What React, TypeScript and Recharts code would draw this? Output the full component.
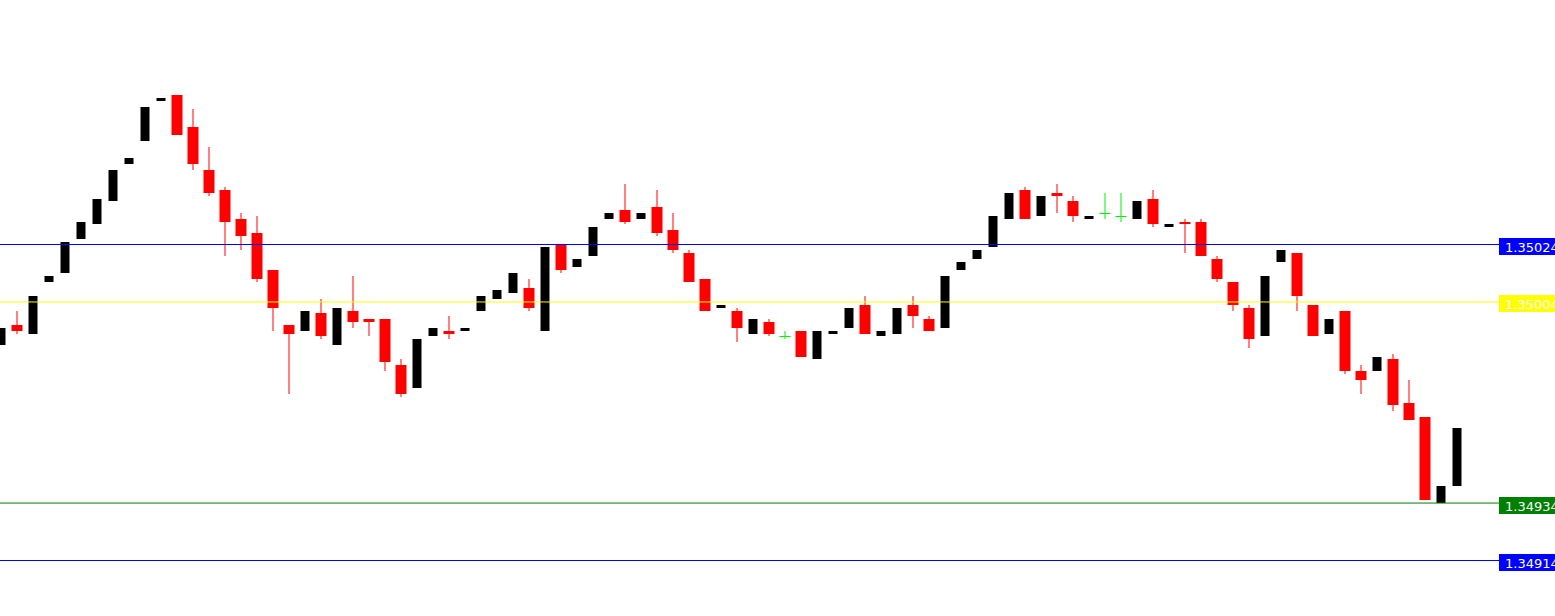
import { ComposedChart, Bar, XAxis, YAxis, ReferenceLine } from 'recharts';

// OHLC prices, one entry per candle, oldest first
const opens = [
  1.34989, 1.34996, 1.34993, 1.35011, 1.35014, 1.35026, 1.35031, 1.35039, 1.35052, 1.35060,
  1.35074, 1.35076, 1.35065, 1.35050, 1.35043, 1.35033, 1.35028, 1.35015, 1.34996, 1.34994,
  1.35000, 1.34989, 1.35001, 1.34998, 1.34998, 1.34982, 1.34974, 1.34992, 1.34994, 1.34994,
  1.35001, 1.35005, 1.35007, 1.35009, 1.34994, 1.35024, 1.35016, 1.35020, 1.35033, 1.35036,
  1.35033, 1.35037, 1.35029, 1.35021, 1.35012, 1.35002, 1.35001, 1.34993, 1.34997, 1.34992,
  1.34994, 1.34984, 1.34993, 1.34995, 1.35003, 1.34992, 1.34993, 1.35003, 1.34998, 1.34995,
  1.35015, 1.35019, 1.35023, 1.35033, 1.35043, 1.35034, 1.35042, 1.35039, 1.35033, 1.35035,
  1.35034, 1.35033, 1.35040, 1.35030, 1.35032, 1.35032, 1.35019, 1.35011, 1.35002, 1.34992,
  1.35018, 1.35021, 1.35003, 1.34993, 1.35001, 1.34980, 1.34980, 1.34984, 1.34969, 1.34964,
  1.34934, 1.34940,
];
const highs = [
  1.34995, 1.35001, 1.35006, 1.35013, 1.35025, 1.35032, 1.35040, 1.35050, 1.35054, 1.35072,
  1.35075, 1.35076, 1.35071, 1.35058, 1.35044, 1.35035, 1.35034, 1.35015, 1.34996, 1.35001,
  1.35005, 1.35002, 1.35013, 1.34998, 1.34998, 1.34984, 1.34991, 1.34995, 1.34999, 1.34995,
  1.35006, 1.35008, 1.35014, 1.35012, 1.35023, 1.35024, 1.35019, 1.35030, 1.35035, 1.35045,
  1.35035, 1.35043, 1.35035, 1.35022, 1.35012, 1.35003, 1.35002, 1.34998, 1.34998, 1.34994,
  1.34994, 1.34994, 1.34994, 1.35002, 1.35006, 1.34994, 1.35002, 1.35006, 1.34999, 1.35013,
  1.35018, 1.35022, 1.35034, 1.35042, 1.35044, 1.35041, 1.35045, 1.35041, 1.35034, 1.35042,
  1.35042, 1.35039, 1.35043, 1.35031, 1.35033, 1.35033, 1.35020, 1.35011, 1.35003, 1.35013,
  1.35022, 1.35021, 1.35003, 1.34998, 1.35001, 1.34982, 1.34985, 1.34986, 1.34977, 1.34964,
  1.34940, 1.34960,
];
const lows = [
  1.34989, 1.34993, 1.34993, 1.35011, 1.35014, 1.35026, 1.35031, 1.35039, 1.35052, 1.35060,
  1.35074, 1.35062, 1.35050, 1.35041, 1.35020, 1.35022, 1.35011, 1.34994, 1.34972, 1.34994,
  1.34991, 1.34989, 1.34995, 1.34992, 1.34980, 1.34971, 1.34974, 1.34992, 1.34991, 1.34994,
  1.35001, 1.35005, 1.35007, 1.35001, 1.34994, 1.35014, 1.35016, 1.35020, 1.35033, 1.35031,
  1.35033, 1.35027, 1.35021, 1.35011, 1.35001, 1.35002, 1.34990, 1.34993, 1.34992, 1.34991,
  1.34985, 1.34984, 1.34993, 1.34995, 1.34993, 1.34992, 1.34993, 1.34995, 1.34994, 1.34995,
  1.35015, 1.35019, 1.35023, 1.35033, 1.35033, 1.35034, 1.35035, 1.35032, 1.35033, 1.35033,
  1.35032, 1.35033, 1.35030, 1.35030, 1.35021, 1.35020, 1.35011, 1.35001, 1.34988, 1.34992,
  1.35018, 1.35001, 1.34992, 1.34993, 1.34979, 1.34972, 1.34980, 1.34966, 1.34963, 1.34935,
  1.34934, 1.34940,
];
const closes = [
  1.34995, 1.34994, 1.35006, 1.35013, 1.35025, 1.35032, 1.35040, 1.35050, 1.35054, 1.35072,
  1.35075, 1.35062, 1.35052, 1.35042, 1.35032, 1.35027, 1.35012, 1.35002, 1.34993, 1.35001,
  1.34992, 1.35002, 1.34997, 1.34997, 1.34983, 1.34972, 1.34991, 1.34995, 1.34993, 1.34995,
  1.35006, 1.35008, 1.35014, 1.35002, 1.35023, 1.35015, 1.35019, 1.35030, 1.35035, 1.35032,
  1.35035, 1.35028, 1.35022, 1.35011, 1.35001, 1.35003, 1.34995, 1.34998, 1.34993, 1.34992,
  1.34985, 1.34994, 1.34994, 1.35002, 1.34993, 1.34994, 1.35002, 1.34999, 1.34994, 1.35013,
  1.35018, 1.35022, 1.35034, 1.35042, 1.35033, 1.35041, 1.35041, 1.35034, 1.35034, 1.35035,
  1.35034, 1.35039, 1.35031, 1.35031, 1.35031, 1.35020, 1.35012, 1.35003, 1.34991, 1.35013,
  1.35022, 1.35006, 1.34992, 1.34998, 1.34980, 1.34977, 1.34985, 1.34968, 1.34963, 1.34935,
  1.34940, 1.34960,
];

// horizontal price levels
const levels = [1.35024, 1.35004, 1.34934, 1.34914];
const levelLabels = ['1.35024', '1.35004', '1.34934', '1.34914'];
const levelColors = ['#0000ff', '#ffff00', '#008000', '#0000ff'];

const data = opens.map((o, i) => ({ idx: i, open: o, high: highs[i], low: lows[i], close: closes[i] }));

function Candle(props: any) {
  const { x, y, width, height, payload } = props;
  const { open, close, high, low } = payload;
  const top = Math.min(y, y + height);
  const per = Math.abs(height) / (high - low);
  const py = (v: number) => top + (high - v) * per;
  const cx = x + width / 2;
  const yHigh = Math.round(py(high));
  const yLow = Math.round(py(low));

  if (open === close) {
    const yc = Math.round(py(open));
    return (
      <g>
        <line x1={cx} x2={cx} y1={yHigh} y2={yLow} stroke="#00ee00" strokeWidth={1} />
        <line x1={cx - 5.5} x2={cx + 5.5} y1={yc + 0.5} y2={yc + 0.5} stroke="#00ee00" strokeWidth={1} />
      </g>
    );
  }

  const bull = close > open;
  const color = bull ? '#000000' : '#ff0000';
  const bw = bull ? 9 : 11;
  const yTop = Math.round(py(Math.max(open, close)));
  const yBot = Math.round(py(Math.min(open, close)));
  return (
    <g>
      <line x1={cx} x2={cx} y1={yHigh} y2={yLow} stroke={color} strokeWidth={1} />
      <rect x={cx - bw / 2} y={yTop} width={bw} height={Math.max(2, yBot - yTop)} fill={color} />
    </g>
  );
}

function LevelTag(props: any) {
  const { viewBox, text, color } = props;
  const ly = Math.floor(viewBox.y);
  const bx = viewBox.x + viewBox.width - 56;
  return (
    <g>
      <rect x={bx} y={ly - 6} width={60} height={17} fill={color} />
      <text x={bx + 6} y={ly + 8} fill="#ffffff" fontSize={13} fontFamily="DejaVu Sans">
        {text}
      </text>
    </g>
  );
}

export default function App() {
  return (
    <div style={{ position: 'absolute', left: 0, top: 0, width: 1555, height: 616, background: '#ffffff' }}>
      <ComposedChart width={1555} height={616} data={data} margin={{ top: 0, right: 0, bottom: 0, left: 0 }}>
        <XAxis dataKey="idx" type="number" domain={[-0.09375, 97.09375]} hide allowDataOverflow />
        <YAxis type="number" domain={[1.34894681, 1.35109111]} hide allowDataOverflow />
        {levels.map((lv, i) => (
          <ReferenceLine
            key={lv}
            y={lv}
            stroke={levelColors[i]}
            strokeWidth={1}
            label={<LevelTag text={levelLabels[i]} color={levelColors[i]} />}
          />
        ))}
        <Bar
          dataKey={(d: any) => [d.low, d.high]}
          barSize={11}
          shape={<Candle />}
          isAnimationActive={false}
        />
      </ComposedChart>
    </div>
  );
}
